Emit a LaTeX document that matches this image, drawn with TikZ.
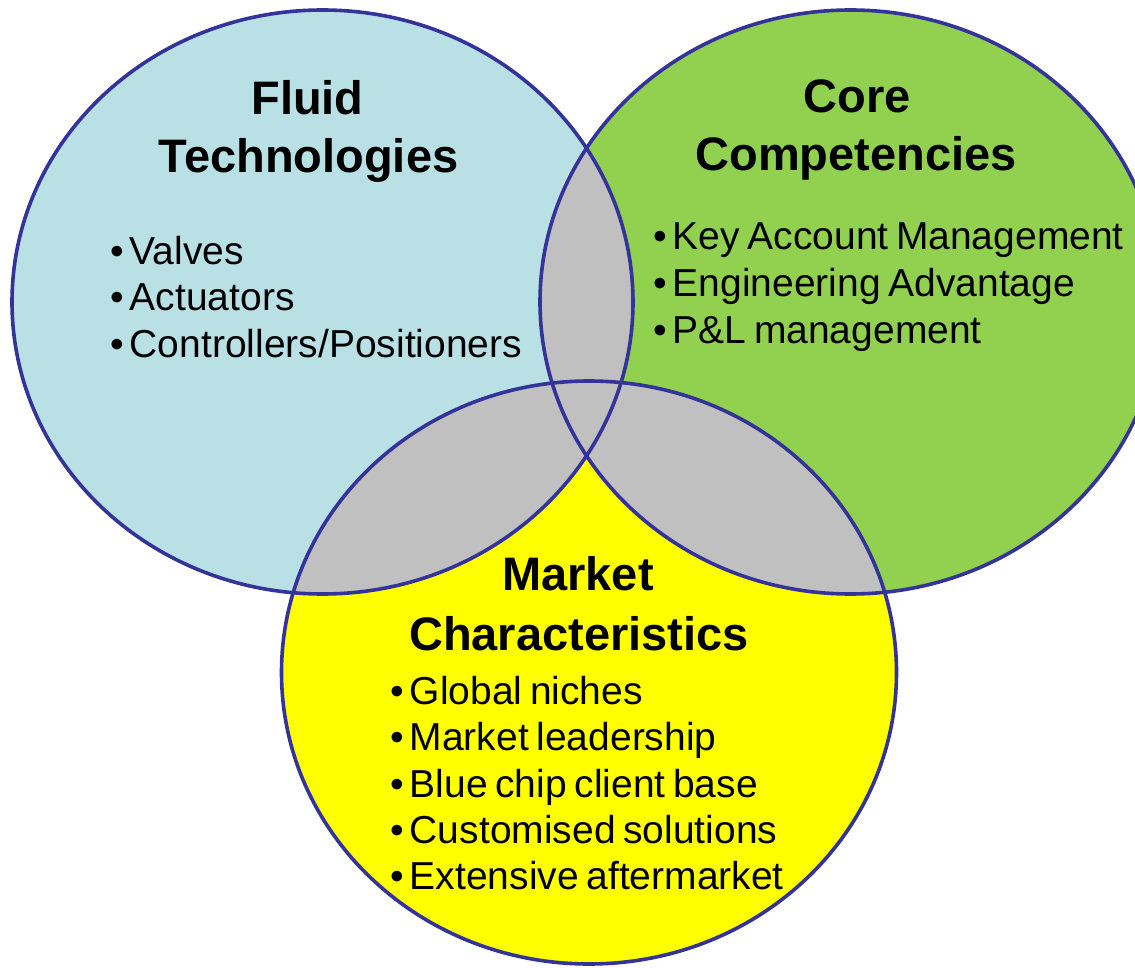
\documentclass[tikz,border=0pt]{standalone}
\usepackage{fontspec}
\setmainfont{Liberation Sans}[WordSpace=0.7]
\definecolor{fluidfill}{RGB}{185,224,228}
\definecolor{corefill}{RGB}{146,208,80}
\definecolor{marketfill}{RGB}{255,255,0}
\definecolor{overlapfill}{RGB}{192,192,192}
\definecolor{ringblue}{RGB}{51,51,153}
% the three sets of the diagram
\def\fluidshape{(322.5,302) ellipse [x radius=310.5pt, y radius=292pt]}
\def\coreshape{(850.5,302) ellipse [x radius=310.5pt, y radius=292pt]}
\def\marketshape{(589,672.5) ellipse [x radius=307.5pt, y radius=291.5pt]}
\newcommand\bul{•\kern6pt}
\begin{document}
\begin{tikzpicture}[x=1pt,y=-1pt,
  ring/.style={draw=ringblue, line width=3.6pt},
  heading/.style={font=\fontsize{47}{57}\selectfont\bfseries, anchor=base, inner sep=0pt},
  entry/.style={font=\fontsize{39}{46}\selectfont, anchor=base west, inner sep=0pt}]
\useasboundingbox (0,0) rectangle (1135,968);
\begin{scope}
  \clip (0,0) rectangle (1135,968);
  \fill[fluidfill] \fluidshape;
  \fill[corefill] \coreshape;
  \fill[marketfill] \marketshape;
  % pairwise overlaps in grey
  \begin{scope}
    \clip \fluidshape;
    \fill[overlapfill] \coreshape;
    \fill[overlapfill] \marketshape;
  \end{scope}
  \begin{scope}
    \clip \coreshape;
    \fill[overlapfill] \marketshape;
  \end{scope}
  \draw[ring] \fluidshape;
  \draw[ring] \coreshape;
  \draw[ring] \marketshape;
\end{scope}
% headings
\node[heading] (fluidA) at (307.5,115) {Fluid};
\node[heading] (fluidB) at (308.5,173) {Technologies};
\node[heading] (coreA) at (857.5,113) {Core};
\node[heading] (coreB) at (856,171) {Competencies};
\node[heading] (marketA) at (578,590) {Market};
\node[heading] (marketB) at (579,650) {Characteristics};
% fluid technologies
\node[entry] (f1) at (110,265) {\bul Valves};
\node[entry] (f2) at (110,311) {\bul Actuators};
\node[entry] (f3) at (110,357) {\bul Controllers/Positioners};
% core competencies
\node[entry] (c1) at (653,250) {\bul Key Account Management};
\node[entry] (c2) at (653,297) {\bul Engineering Advantage};
\node[entry] (c3) at (653,343) {\bul P\&L management};
% market characteristics
\node[entry] (m1) at (390,704) {\bul Global niches};
\node[entry] (m2) at (390,750) {\bul Market leadership};
\node[entry] (m3) at (390,797) {\bul Blue chip client base};
\node[entry] (m4) at (390,843) {\bul Customised solutions};
\node[entry] (m5) at (390,889) {\bul Extensive aftermarket};
\end{tikzpicture}
\end{document}
